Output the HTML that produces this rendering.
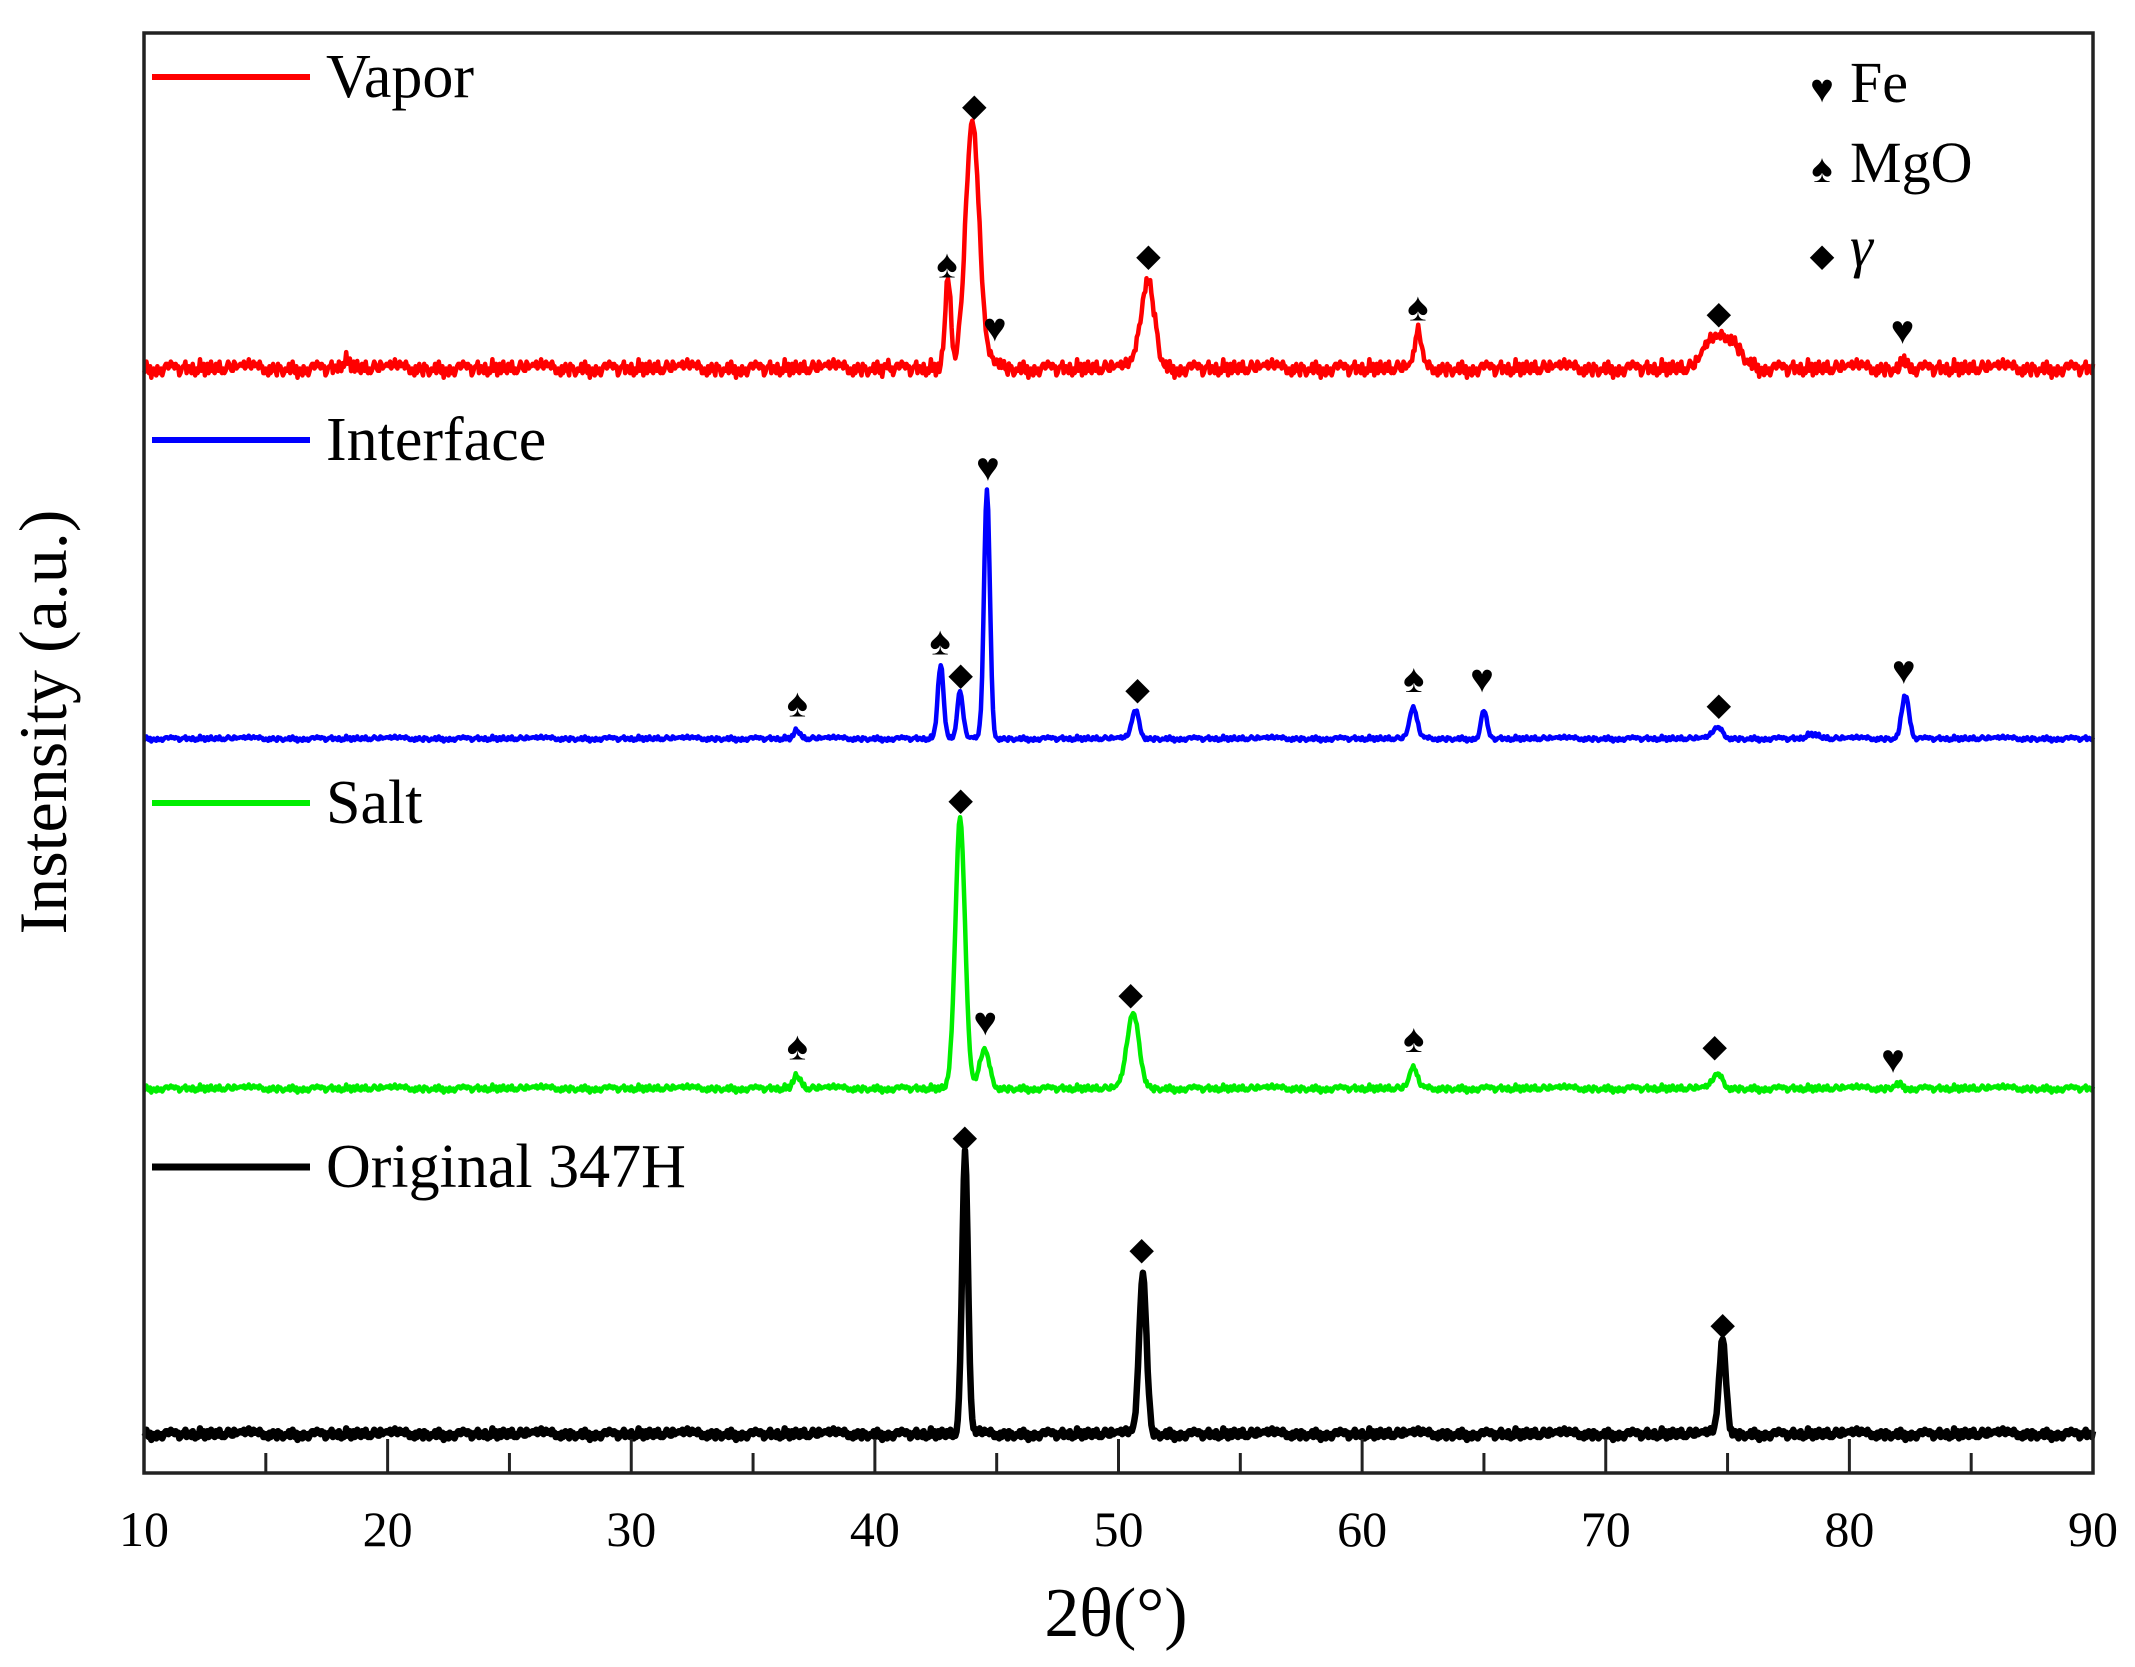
<!DOCTYPE html>
<html><head><meta charset="utf-8"><style>
html,body{margin:0;padding:0;background:#fff;}
svg{display:block;font-family:"Liberation Serif",serif;}
</style></head><body>
<svg id="chart" width="2135" height="1667" viewBox="0 0 2135 1667" xmlns="http://www.w3.org/2000/svg">
<rect x="0" y="0" width="2135" height="1667" fill="#fff"/>
<g id="series"></g>
<g id="markers"></g>
<rect x="144" y="33" width="1949" height="1440" fill="none" stroke="#222" stroke-width="3.5"/>
<g id="ticks"></g>
<text x="1116" y="1636" font-size="70" text-anchor="middle">2θ(°)</text>
<text transform="translate(66,722) rotate(-90)" font-size="68" text-anchor="middle">Instensity (a.u.)</text>
<g>
<line x1="152" y1="77" x2="310" y2="77" stroke="#f00" stroke-width="6"/>
<text x="326" y="97" font-size="62">Vapor</text>
<line x1="152" y1="440" x2="310" y2="440" stroke="#00f" stroke-width="6"/>
<text x="326" y="460" font-size="62">Interface</text>
<line x1="152" y1="803" x2="310" y2="803" stroke="#0e0" stroke-width="6"/>
<text x="326" y="823" font-size="62">Salt</text>
<line x1="152" y1="1167" x2="310" y2="1167" stroke="#000" stroke-width="7"/>
<text x="326" y="1187" font-size="62">Original 347H</text>
</g>
<g>
<text x="1822" y="102" font-size="40" text-anchor="middle">♥</text>
<text x="1850" y="102" font-size="58">Fe</text>
<text x="1822" y="182" font-size="40" text-anchor="middle">♠</text>
<text x="1850" y="182" font-size="58">MgO</text>
<text x="1822" y="266" font-size="32" text-anchor="middle">◆</text>
<text x="1850" y="266" font-size="58" font-style="italic">γ</text>
</g>
</svg>
<script>
const xTicks=[10,20,30,40,50,60,70,80,90];
const xMinor=[15,25,35,45,55,65,75,85];
const seriesNames=["vapor","interface","salt","original"];
const seriesColors=["#f00","#00f","#0e0","#000"];
const seriesOffsets=[767,510,267,27];
const vaporPos=[43.0,44.0,45.0,51.2,62.3,74.2,75.0,82.3,18.3,40.5];
const vaporH=[62,169,6,62,24,10,22,8,5,5];
const vaporW=[0.12,0.28,0.2,0.28,0.13,0.3,0.5,0.13,0.2,0.1];
const interfacePos=[36.8,42.7,43.5,44.6,50.7,62.1,65.0,74.6,78.5,82.3];
const interfaceH=[6,51,32,172,19,21,19,7,3,31];
const interfaceW=[0.12,0.12,0.12,0.12,0.15,0.15,0.12,0.2,0.25,0.15];
const saltPos=[36.8,43.5,44.5,50.6,62.1,74.6,82.0];
const saltH=[9,187,26,51,14,9,3];
const saltW=[0.15,0.2,0.2,0.25,0.15,0.2,0.2];
const originalPos=[43.7,51.0,74.8];
const originalH=[194,112,65];
const originalW=[0.12,0.15,0.14];
const noise=[2,-1,3,0,-2,1,4,-1,0,2,-3,1,2,-2,0,3,-1,1,-2,2,0,-1,3,1,-2,0,2,-1,1,-3,2,0,1,-1,3,-2,0,1,-1,2];
const markerSymbols=["◆","♠","♥","◆","♠","◆","♥", "♥","♠","◆","♠","◆","♠","♥","◆","♥", "◆","♥","◆","♠","♠","◆","♥", "◆","◆","◆"];
const markerX=[44.08,42.96,44.92,51.23,62.29,74.64,82.18, 44.64,42.68,43.52,36.82,50.78,62.12,64.92,74.64,82.23, 43.52,44.53,50.50,36.82,62.12,74.47,81.79, 43.69,50.95,74.8];
const markerY=[952,840,796,848,810,808,794, 699,578,557,535,547,552,552,536,558, 470,314,335,297,302,299,288, 236,158,106];

const X0=144,X1=2093,Y0=1473,Y1=33;
function xs(d){return X0+(d-10)/80*(X1-X0);}
function ys(v){return Y0-v/1000*(Y0-Y1);}
const NS="http://www.w3.org/2000/svg";
const tg=document.getElementById('ticks');
xTicks.forEach(t=>{
 const l=document.createElementNS(NS,'line');
 l.setAttribute('x1',xs(t));l.setAttribute('x2',xs(t));l.setAttribute('y1',Y0);l.setAttribute('y2',Y0-34);
 l.setAttribute('stroke','#222');l.setAttribute('stroke-width','3');
 
 
 tg.appendChild(l);
 const tx=document.createElementNS(NS,'text');
 tx.setAttribute('x',xs(t));tx.setAttribute('y',1546);tx.setAttribute('font-size','50');tx.setAttribute('text-anchor','middle');
 tx.textContent=t;
 
 
 tg.appendChild(tx);
});
xMinor.forEach(t=>{
 const l=document.createElementNS(NS,'line');
 l.setAttribute('x1',xs(t));l.setAttribute('x2',xs(t));l.setAttribute('y1',Y0);l.setAttribute('y2',Y0-20);
 l.setAttribute('stroke','#222');l.setAttribute('stroke-width','3');
 
 
 tg.appendChild(l);
});
const peaks=[[vaporPos,vaporH,vaporW],[interfacePos,interfaceH,interfaceW],[saltPos,saltH,saltW],[originalPos,originalH,originalW]];
const noiseAmp=[1.6,0.5,0.7,1.0];
const sg=document.getElementById('series');
seriesNames.forEach((n,i)=>{
 const [P,H,W]=peaks[i];
 let d='';
 for(let k=0;k<=1600;k++){
  const deg=10+k*80/1600;
  let v=seriesOffsets[i]+noise[k%noise.length]*noiseAmp[i]*((k*7)%3===0?-1:1);
  for(let j=0;j<P.length;j++){v+=H[j]*Math.exp(-0.5*Math.pow((deg-P[j])/W[j],2));}
  d+=(k?'L':'M')+xs(deg).toFixed(1)+','+ys(v).toFixed(1);
 }
 const p=document.createElementNS(NS,'path');
 p.setAttribute('d',d);p.setAttribute('fill','none');p.setAttribute('stroke',seriesColors[i]);
 p.setAttribute('stroke-width',i===3?'6.5':'4.5');p.setAttribute('stroke-linejoin','round');
 
 
 sg.appendChild(p);
});
const mg=document.getElementById('markers');
markerSymbols.forEach((s,i)=>{
 const t=document.createElementNS(NS,'text');
 t.setAttribute('x',xs(markerX[i]));t.setAttribute('y',ys(markerY[i])+14);
 t.setAttribute('font-size',s==='◆'?'32':'40');t.setAttribute('text-anchor','middle');
 t.textContent=s;
 
 
 mg.appendChild(t);
});
</script>
</body></html>
